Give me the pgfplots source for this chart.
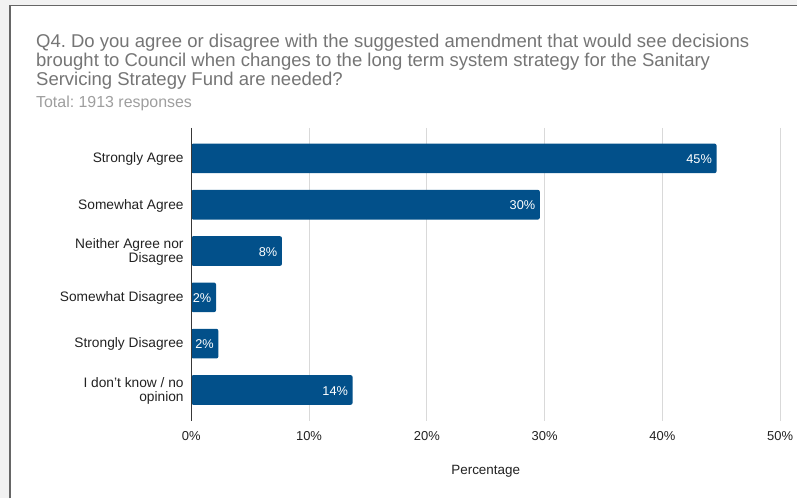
\documentclass[border=0pt]{standalone}
\usepackage{fontspec}
\setmainfont{Liberation Sans}
\usepackage{pgfplots}
\pgfplotsset{compat=1.18}
\frenchspacing
\definecolor{barblue}{HTML}{02508A}
\definecolor{titlegray}{HTML}{757575}
\definecolor{subgray}{HTML}{9E9E9E}
\definecolor{gridgray}{HTML}{D9D9D9}
\definecolor{bggray}{HTML}{F2F2F2}
\definecolor{framegray}{HTML}{666666}
\definecolor{labelblack}{HTML}{222222}
\begin{document}
\begin{tikzpicture}[x=1bp,y=1bp]
% page background and card (pixel y measured from top: y_tikz = 499 - y_px)
\fill[bggray] (0,0) rectangle (798,499);
\fill[white] (10,0) rectangle (798,493.5);
\draw[framegray, line width=1.8bp] (10,0) -- (10,493.5) -- (798,493.5);

% title
\begin{scope}[every node/.style={anchor=base west, inner sep=0pt, text=titlegray, font=\fontsize{18.6}{19}\selectfont}]
  \node at (36,499-48) {Q4. Do you agree or disagree with the suggested amendment that would see decisions};
  \node at (36,499-67) {brought to Council when changes to the long term system strategy for the Sanitary};
  \node at (36,499-85.5) {Servicing Strategy Fund are needed?};
\end{scope}
\node[anchor=base west, inner sep=0pt, text=subgray, font=\fontsize{16}{17}\selectfont] at (36,499-107.5) {Total: 1913 responses};

\begin{axis}[
  at={(191.5bp,78bp)}, anchor=south west,
  scale only axis,
  width=589.5bp, height=293bp,
  xmin=0, xmax=50,
  ymin=-0.66, ymax=5.66,
  y dir=reverse,
  xbar, bar width=29.7bp,
  axis line style={draw=none},
  major tick length=0pt,
  /pgf/number format/assume math mode=true,
  xmajorgrids, grid style={gridgray, line width=1bp},
  xtick={0,10,20,30,40,50},
  xticklabel={\pgfmathprintnumber{\tick}\%},
  xticklabel style={anchor=north, inner sep=0pt, yshift=-10.5bp, text=labelblack, font=\fontsize{13}{14}\selectfont},
  ytick={0,1,2,3,4,5},
  yticklabels={Strongly Agree, Somewhat Agree, {Neither Agree nor\\Disagree}, Somewhat Disagree, Strongly Disagree, {I don’t know / no\\opinion}},
  yticklabel style={align=right, anchor=east, inner sep=0pt, xshift=-7.5bp, yshift=-0.8bp, text=labelblack, font=\fontsize{13.8}{14}\selectfont},
  xlabel={Percentage},
  xlabel style={at={(rel axis cs:0.5,0)}, anchor=center, yshift=-51bp, text=labelblack, font=\fontsize{13.5}{15}\selectfont},
  nodes near coords={\pgfmathprintnumber[fixed,precision=0]{\pgfplotspointmeta}\%},
  nodes near coords style={anchor=east, xshift=-4.5bp, yshift=-0.8bp, inner sep=0pt, text=white, font=\fontsize{12.8}{14}\selectfont},
  clip=false,
]
\addplot[fill=barblue, draw=none, rounded corners=2bp] coordinates {
  (44.6,0) (29.6,1) (7.7,2) (2.1,3) (2.3,4) (13.7,5)
};
\draw[labelblack!90, line width=1bp] (axis cs:0,-0.66) -- (axis cs:0,5.66);
\end{axis}
\end{tikzpicture}
\end{document}
